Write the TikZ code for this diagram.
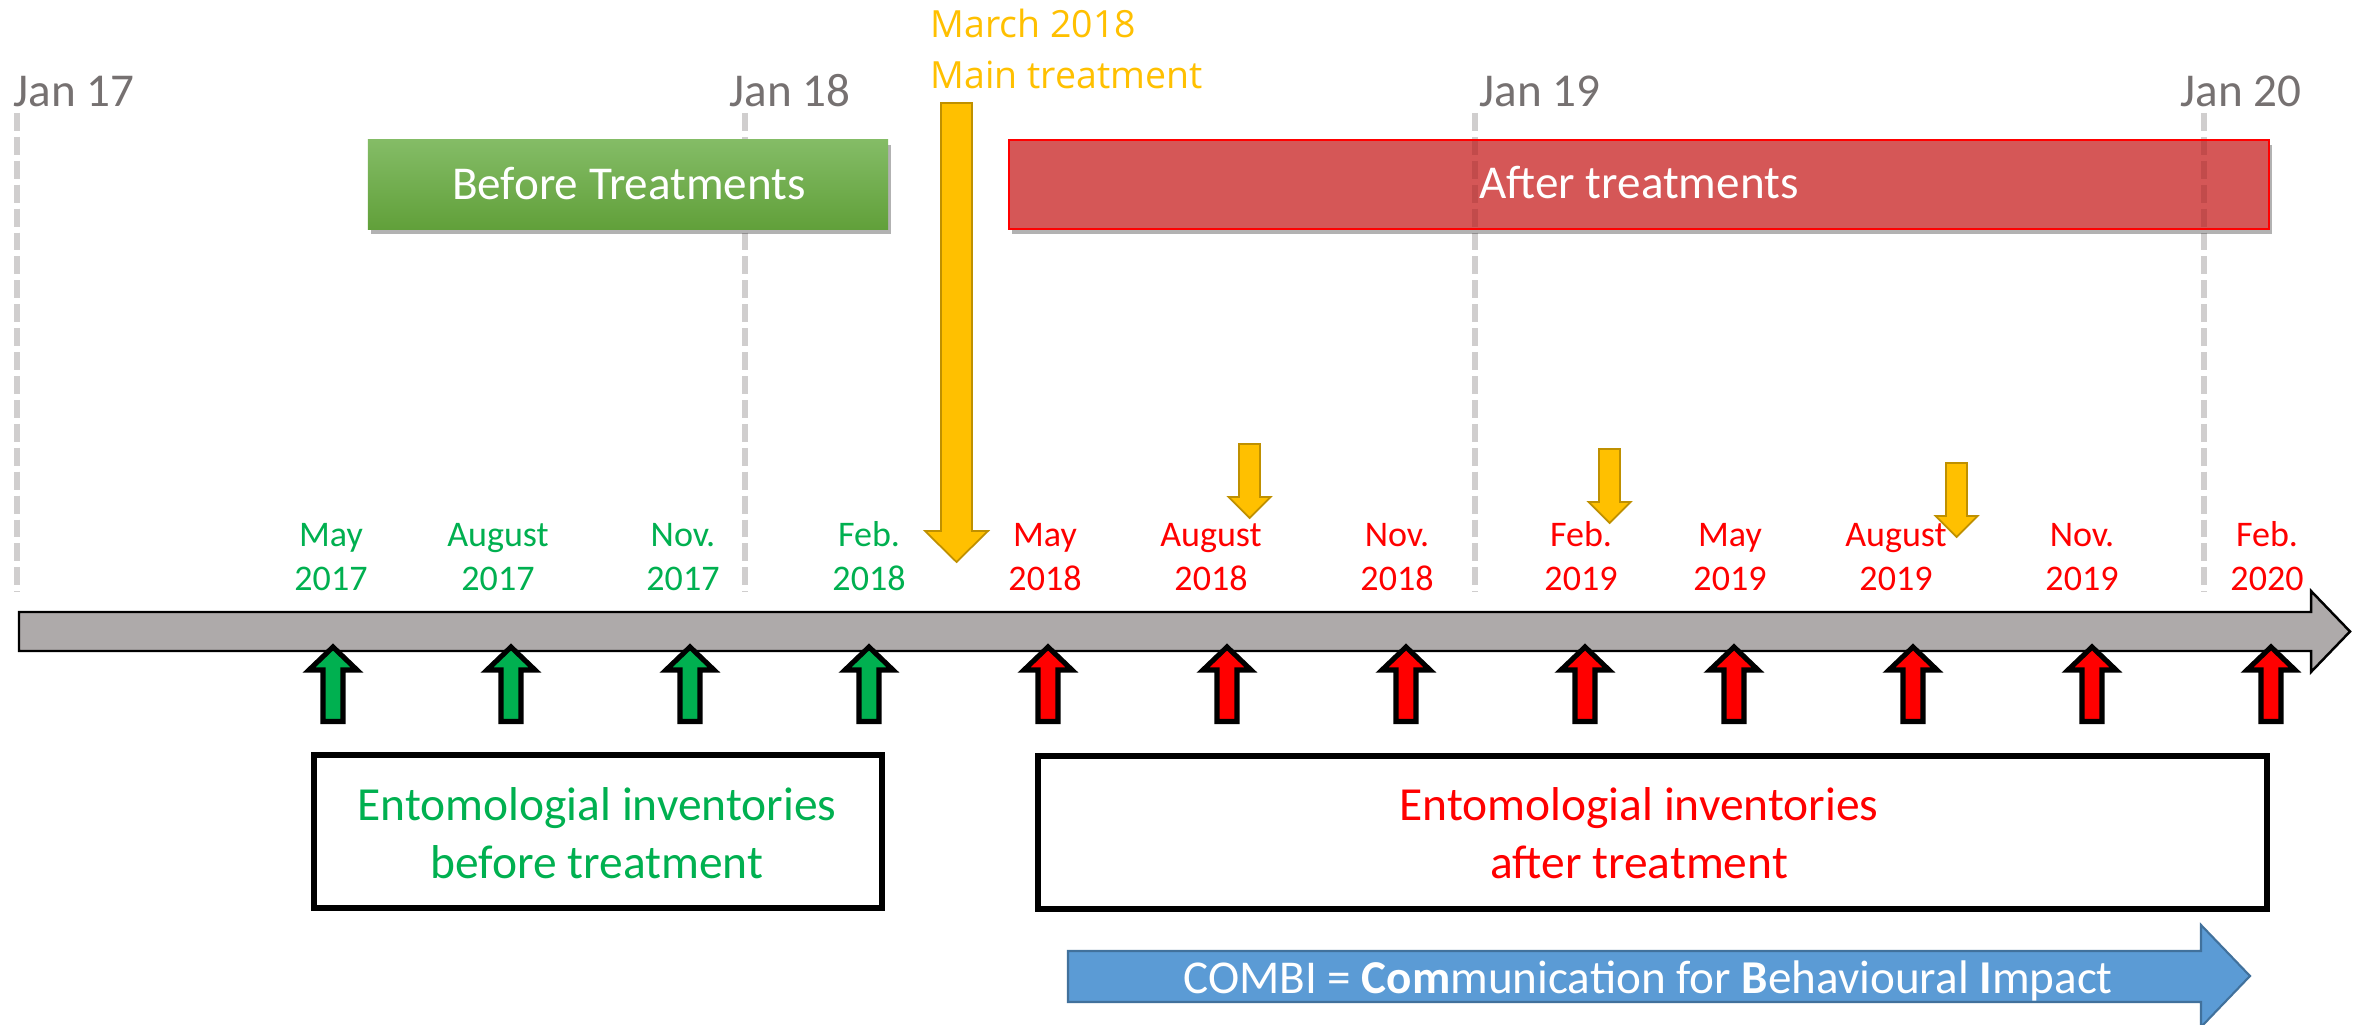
\documentclass[tikz,border=0pt]{standalone}
\usepackage{fontspec}
\setmainfont{Carlito}
\newfontfamily\opensans{Open Sans}
\usetikzlibrary{shadows}
\definecolor{ygreen}{HTML}{00B050}
\definecolor{yred}{HTML}{FF0000}
\definecolor{gold}{HTML}{FFC000}
\definecolor{golddark}{HTML}{BF9000}
\definecolor{axisgray}{HTML}{AEAAAA}
\definecolor{labelgray}{HTML}{767171}
\definecolor{guidegray}{HTML}{D0CECE}
\definecolor{guidered}{HTML}{C24B4B}
\definecolor{combiblue}{HTML}{5B9BD5}
\definecolor{combiborder}{HTML}{41719C}
\definecolor{gtop}{HTML}{84BC66}
\definecolor{gbot}{HTML}{61A03A}
\definecolor{afterred}{HTML}{D55757}
\newcommand\mytwolines[3]{\vtop{\baselineskip=#1\relax\lineskiplimit=-20pt\halign{\hfil##\hfil\cr#2\cr#3\cr}}}
\tikzset{
  yearlbl/.style={font=\fontsize{13.4pt}{16pt}\selectfont, text=labelgray, anchor=base west, inner sep=0pt},
  guide/.style={line width=1.7pt, dash pattern=on 5.1pt off 1.7pt},
  monthlbl/.style={font=\fontsize{10.25pt}{12.5pt}\selectfont, anchor=base, inner sep=0pt},
  uparrow/.style={draw=black, line width=1.45pt, line join=miter},
  goldarrow/.style={fill=gold, draw=golddark, line width=0.5pt, line join=miter},
  phaselbl/.style={font=\fontsize{13.4pt}{16pt}\selectfont, text=white, inner sep=0pt},
  phasebox/.style={minimum height=0.89cm, inner sep=0pt, drop shadow={shadow xshift=0.03cm, shadow yshift=-0.05cm, opacity=0.3, fill=black}},
  invbox/.style={draw=black, line width=1.7pt, minimum height=1.53cm, inner sep=0pt},
  invtext/.style={font=\fontsize{13.5pt}{16.5pt}\selectfont, anchor=base, inner sep=0pt},
  marchlbl/.style={font=\opensans\fontsize{10.65pt}{13pt}\selectfont, text=gold, anchor=base west, inner sep=0pt}
}
\begin{document}
\begin{tikzpicture}[x=0.01cm, y=-0.01cm]
\useasboundingbox (0,0) rectangle (2364,1025);
\clip (0,0) rectangle (2364,1025);
\fill[white] (0,0) rectangle (2364,1025);

% year guides
\foreach \gx in {17,745,1475,2204}
  \draw[guide, draw=guidegray] (\gx,113) -- (\gx,592);

% year labels
\node[yearlbl] (j17) at (13,107) {Jan 17};
\node[yearlbl] (j18) at (729,107) {Jan 18};
\node[yearlbl] (j19) at (1479,107) {Jan 19};
\node[yearlbl] (j20) at (2180,107) {Jan 20};

% phase boxes
\node[phasebox, minimum width=5.2cm, top color=gtop, bottom color=gbot] (beforebox) at (628,184.5) {};
\node[phaselbl, anchor=base] (beforelbl) at (629,200) {Before Treatments};
\node[phasebox, minimum width=12.6cm, fill=afterred, draw=yred, line width=0.6pt] (afterbox) at (1639,184.5) {};
\begin{scope}
  \clip (1010,142) rectangle (2268,227);
  \foreach \gx in {1475,2204}
    \draw[guide, draw=guidered] (\gx,113) -- (\gx,592);
\end{scope}
\node[phaselbl, anchor=base] (afterlbl) at (1639,199) {After treatments};

% main treatment label
\node[marchlbl] (march) at (930,38) {March 2018};
\node[marchlbl] (maintr) at (930,89) {Main treatment};

% main time axis arrow
\draw[fill=axisgray, draw=black, line width=0.7pt, line join=miter]
  (19,612) -- (2311,612) -- (2311,591) -- (2350,631.5) -- (2311,672) -- (2311,651) -- (19,651) -- cycle;

% month labels
\node[monthlbl, text=ygreen] (m1) at (331,547) {\mytwolines{12.5pt}{May}{2017}};
\node[monthlbl, text=ygreen] (m2) at (498,547) {\mytwolines{12.5pt}{August}{2017}};
\node[monthlbl, text=ygreen] (m3) at (683,547) {\mytwolines{12.5pt}{Nov.}{2017}};
\node[monthlbl, text=ygreen] (m4) at (869,547) {\mytwolines{12.5pt}{Feb.}{2018}};
\node[monthlbl, text=yred] (m5) at (1045,547) {\mytwolines{12.5pt}{May}{2018}};
\node[monthlbl, text=yred] (m6) at (1211,547) {\mytwolines{12.5pt}{August}{2018}};
\node[monthlbl, text=yred] (m7) at (1397,547) {\mytwolines{12.5pt}{Nov.}{2018}};
\node[monthlbl, text=yred] (m8) at (1581,547) {\mytwolines{12.5pt}{Feb.}{2019}};
\node[monthlbl, text=yred] (m9) at (1730,547) {\mytwolines{12.5pt}{May}{2019}};
\node[monthlbl, text=yred] (m10) at (1896,547) {\mytwolines{12.5pt}{August}{2019}};
\node[monthlbl, text=yred] (m11) at (2082,547) {\mytwolines{12.5pt}{Nov.}{2019}};
\node[monthlbl, text=yred] (m12) at (2267,547) {\mytwolines{12.5pt}{Feb.}{2020}};

% treatment arrows (gold)
\draw[goldarrow] (941,103) -- (972,103) -- (972,531) -- (988,531) -- (956.5,562) -- (925,531) -- (941,531) -- cycle;
\foreach \cx/\ty in {1249.5/444, 1609.5/449, 1956.5/463}
  \draw[goldarrow] (\cx-10.5,\ty) -- (\cx+10.5,\ty) -- (\cx+10.5,\ty+53) -- (\cx+21,\ty+53)
    -- (\cx,\ty+74) -- (\cx-21,\ty+53) -- (\cx-10.5,\ty+53) -- cycle;

% inventory arrows
\foreach \ax/\col in {333/ygreen,511/ygreen,690/ygreen,869/ygreen,1048/yred,1227/yred,1406/yred,1585/yred,1734/yred,1913/yred,2092/yred,2271/yred}
  \draw[uparrow, fill=\col] (\ax,647) -- (\ax+24,670) -- (\ax+10,670) -- (\ax+10,721.5)
    -- (\ax-10,721.5) -- (\ax-10,670) -- (\ax-24,670) -- cycle;

% inventory boxes
\node[invbox, minimum width=5.68cm] (invbefore) at (598,831.5) {};
\node[invtext, text=ygreen] (invbeforelbl) at (597,820) {\mytwolines{16.5pt}{Entomologial inventories}{before treatment}};
\node[invbox, minimum width=12.29cm] (invafter) at (1652.5,832.5) {};
\node[invtext, text=yred] (invafterlbl) at (1639,820) {\mytwolines{16.5pt}{Entomologial inventories}{after treatment}};

% COMBI arrow
\draw[fill=combiblue, draw=combiborder, line width=0.6pt, line join=miter]
  (1068,951) -- (2201,951) -- (2201,925) -- (2250,976) -- (2201,1027) -- (2201,1002) -- (1068,1002) -- cycle;
\node[font=\fontsize{13.4pt}{16pt}\selectfont, text=white, anchor=base, inner sep=0pt] (combi) at (1648,993)
  {COMBI = \textbf{Com}munication for \textbf{B}ehavioural \textbf{I}mpact};
\end{tikzpicture}
\end{document}
